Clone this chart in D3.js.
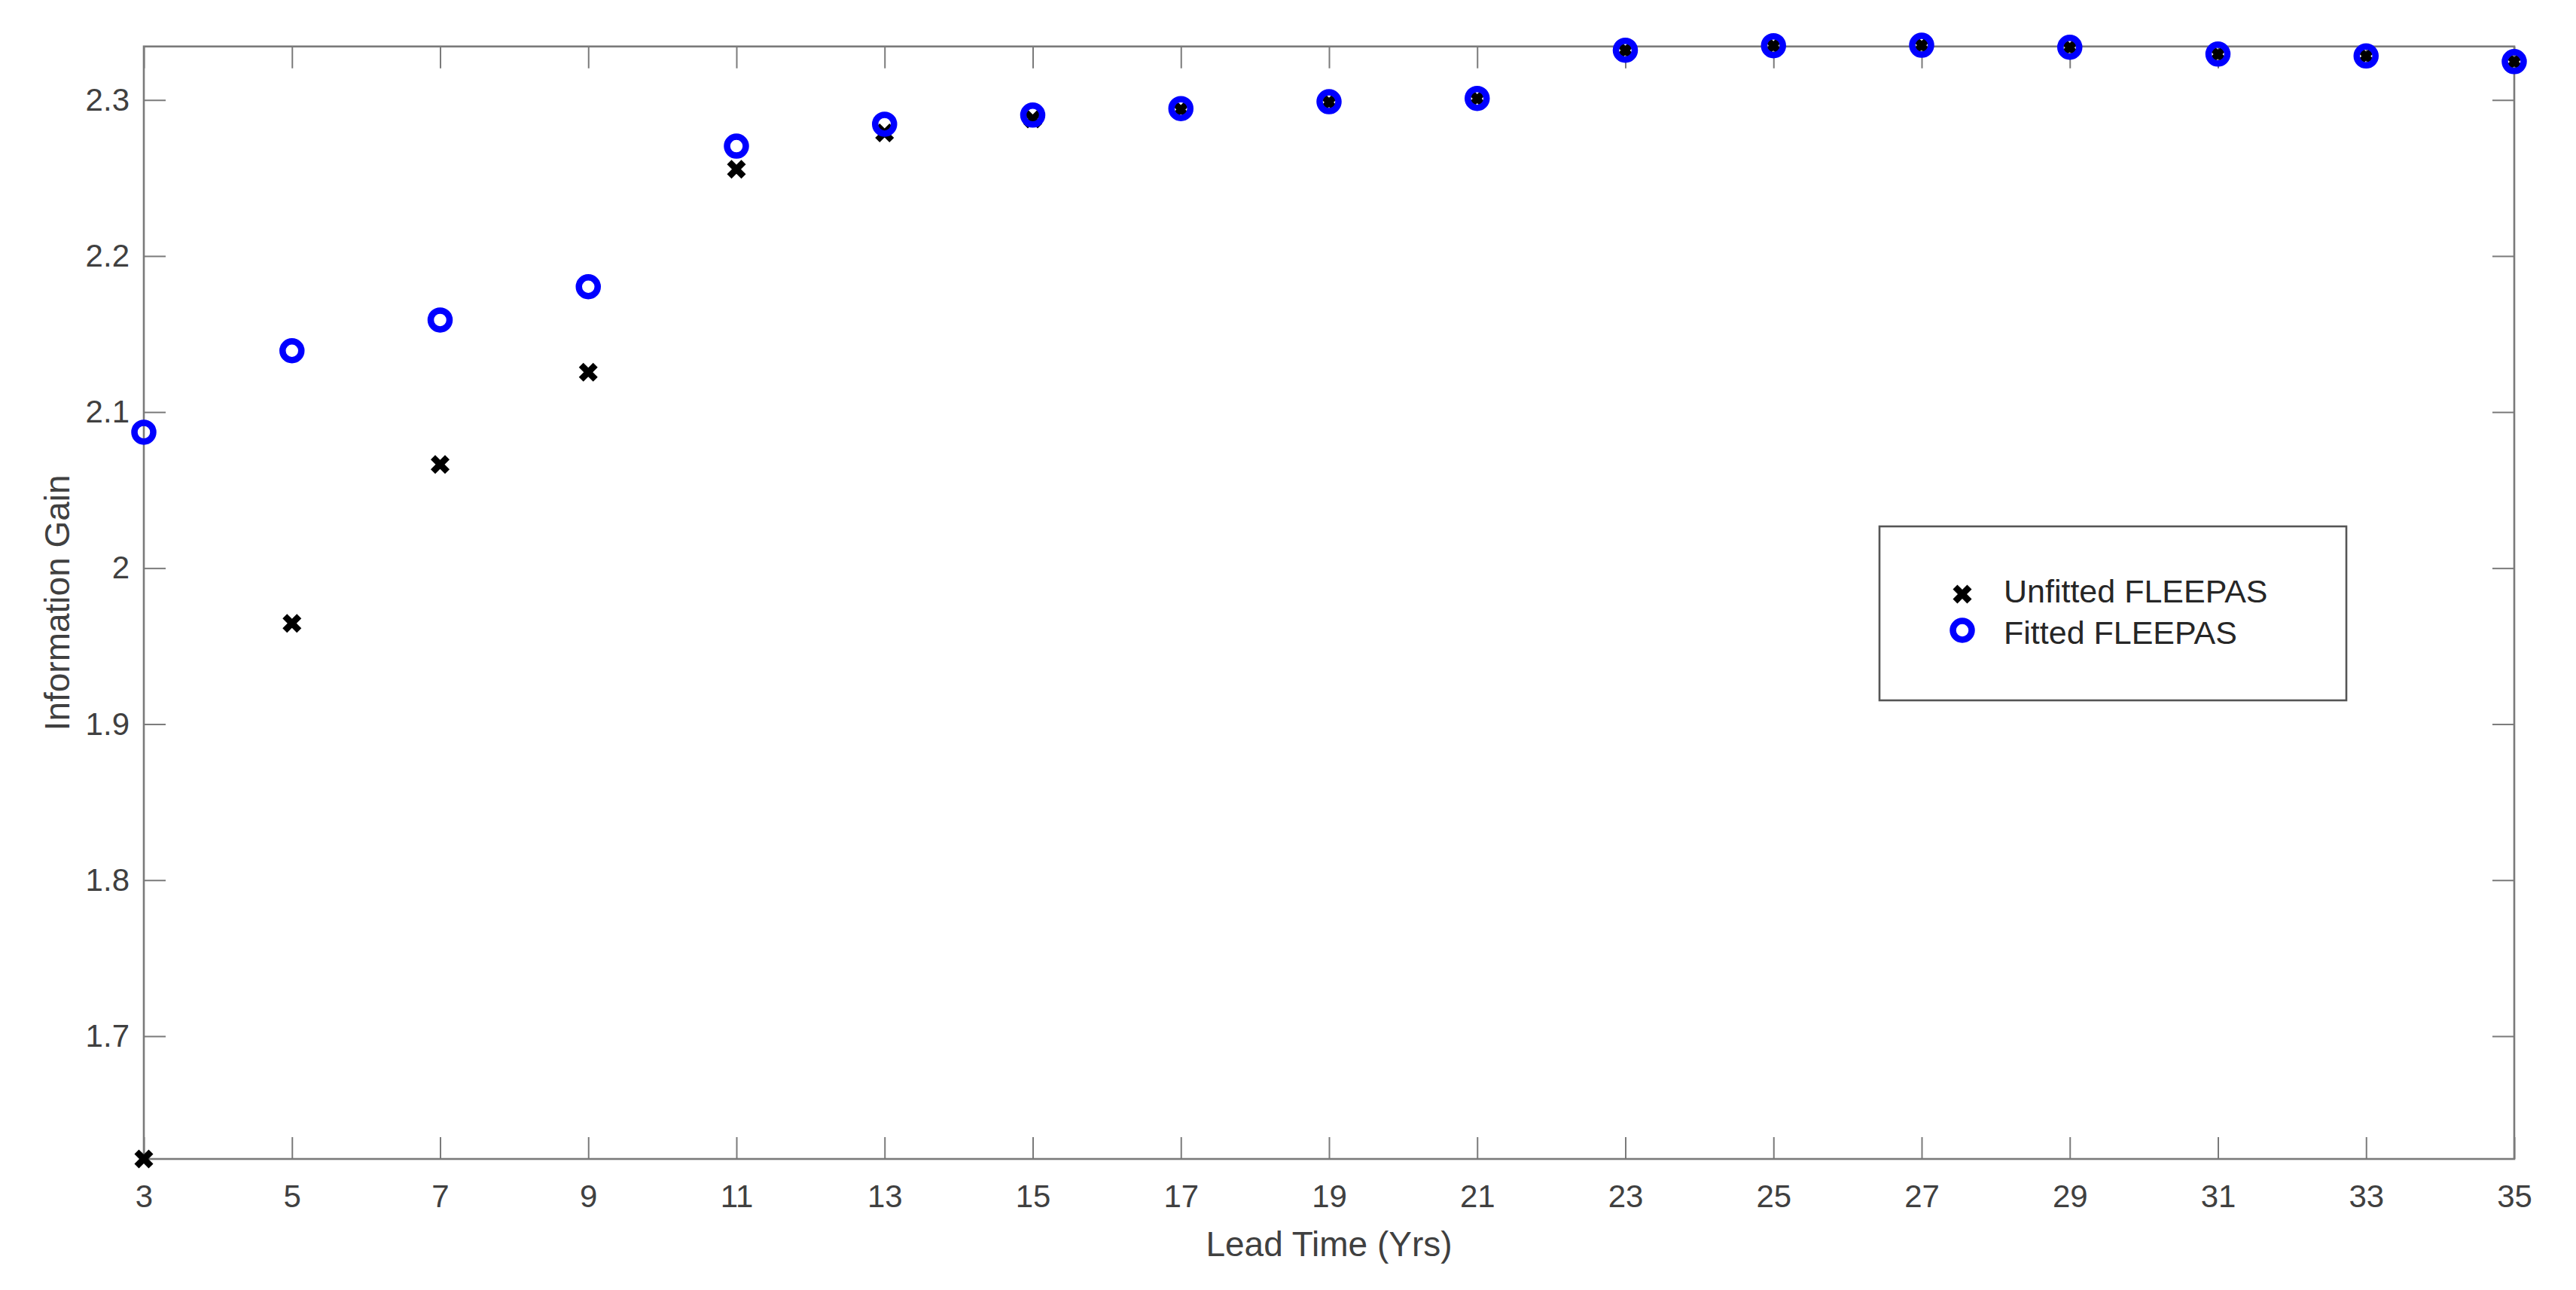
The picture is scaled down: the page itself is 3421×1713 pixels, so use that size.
<!DOCTYPE html>
<html>
<head>
<meta charset="utf-8">
<script src="https://cdn.jsdelivr.net/npm/d3@7"></script>
<style>
  html, body { margin: 0; padding: 0; background: #ffffff; }
  svg { display: block; }
  text { font-family: "Liberation Sans", Arial, Helvetica, sans-serif; }
</style>
</head>
<body>
<script>
// ---------------- data ----------------
const leadTime = [3, 5, 7, 9, 11, 13, 15, 17, 19, 21, 23, 25, 27, 29, 31, 33, 35];
const unfitted = [1.6213, 1.9646, 2.0664, 2.1255, 2.2556, 2.2789, 2.2878, 2.2938, 2.2985, 2.3008,
                  2.3318, 2.3347, 2.3350, 2.3337, 2.3293, 2.3281, 2.3245];
const fitted   = [2.0871, 2.1393, 2.1590, 2.1803, 2.2704, 2.2845, 2.2903, 2.2945, 2.2989, 2.3010,
                  2.3319, 2.3348, 2.3351, 2.3338, 2.3294, 2.3282, 2.3246];
const xLimits = [3, 35];
const yLimits = [1.6213, 2.3343];
const xTicks = [3, 5, 7, 9, 11, 13, 15, 17, 19, 21, 23, 25, 27, 29, 31, 33, 35];
const yTicks = [1.7, 1.8, 1.9, 2.0, 2.1, 2.2, 2.3];
const yTickLabels = ["1.7", "1.8", "1.9", "2", "2.1", "2.2", "2.3"];
const seriesNames = ["Unfitted FLEEPAS", "Fitted FLEEPAS"];
const xTitle = "Lead Time (Yrs)";
const yTitle = "Information Gain";

// ---------------- layout ----------------
const W = 3421, H = 1713;
const plot = { left: 191, right: 3339, top: 61.7, bottom: 1539 };
const axisColor = "#7a7a7a";
const textColor = "#404040";
const tickFont = 42, titleFont = 46, legendFont = 43;

const svg = d3.select("body").append("svg")
  .attr("width", W).attr("height", H)
  .attr("viewBox", `0 0 ${W} ${H}`);
svg.append("rect").attr("width", W).attr("height", H).attr("fill", "#fff");

const x = d3.scaleLinear().domain(xLimits).range([plot.left, plot.right]);
const y = d3.scaleLinear().domain(yLimits).range([plot.bottom, plot.top]);

const tickLen = 29;

function styleAxis(g) {
  g.select(".domain").remove();
  g.selectAll(".tick line").attr("stroke", axisColor).attr("stroke-width", 2);
  g.selectAll(".tick text")
    .attr("fill", textColor)
    .style("font-size", tickFont + "px");
}

// bottom axis
svg.append("g")
  .attr("transform", `translate(0,${plot.bottom})`)
  .call(d3.axisBottom(x).tickValues(xTicks).tickSize(-tickLen).tickSizeOuter(0).tickPadding(34)
        .tickFormat(d3.format("d")))
  .call(styleAxis);
// top axis (ticks only)
svg.append("g")
  .attr("transform", `translate(0,${plot.top})`)
  .call(d3.axisTop(x).tickValues(xTicks).tickSize(-tickLen).tickSizeOuter(0).tickFormat(""))
  .call(styleAxis);
// left axis
svg.append("g")
  .attr("transform", `translate(${plot.left},0)`)
  .call(d3.axisLeft(y).tickValues(yTicks).tickSize(-tickLen).tickSizeOuter(0).tickPadding(19)
        .tickFormat((d, i) => yTickLabels[i]))
  .call(styleAxis);
// right axis (ticks only)
svg.append("g")
  .attr("transform", `translate(${plot.right},0)`)
  .call(d3.axisRight(y).tickValues(yTicks).tickSize(-tickLen).tickSizeOuter(0).tickFormat(""))
  .call(styleAxis);

// box
svg.append("rect")
  .attr("x", plot.left).attr("y", plot.top)
  .attr("width", plot.right - plot.left).attr("height", plot.bottom - plot.top)
  .attr("fill", "none").attr("stroke", axisColor).attr("stroke-width", 2.6);

// axis titles
svg.append("text")
  .attr("x", (plot.left + plot.right) / 2).attr("y", 1668)
  .attr("text-anchor", "middle").attr("fill", textColor)
  .style("font-size", titleFont + "px")
  .text(xTitle);
svg.append("text")
  .attr("transform", `translate(92,${(plot.top + plot.bottom) / 2}) rotate(-90)`)
  .attr("text-anchor", "middle").attr("fill", textColor)
  .style("font-size", titleFont + "px")
  .text(yTitle);

// markers
const xPath = "M-6.5,-6.5L6.5,6.5M-6.5,6.5L6.5,-6.5";
function drawCross(g, cx, cy) {
  g.append("path").attr("d", xPath)
    .attr("transform", `translate(${cx},${cy})`)
    .attr("stroke", "#000").attr("stroke-width", 8.5).attr("fill", "none")
    .attr("stroke-linecap", "square");
}
function drawRing(g, cx, cy) {
  g.append("circle").attr("cx", cx).attr("cy", cy).attr("r", 12.5)
    .attr("fill", "none").attr("stroke", "#0000ff").attr("stroke-width", 8.5);
}

const gU = svg.append("g").attr("class", "unfitted");
leadTime.forEach((t, i) => drawCross(gU, x(t), y(unfitted[i])));
const gF = svg.append("g").attr("class", "fitted");
leadTime.forEach((t, i) => drawRing(gF, x(t), y(fitted[i])));

// legend
const lg = svg.append("g").attr("class", "legend");
lg.append("rect")
  .attr("x", 2496).attr("y", 699).attr("width", 620).attr("height", 231)
  .attr("fill", "#fff").attr("stroke", "#555").attr("stroke-width", 2.6);
drawCross(lg, 2606, 789);
drawRing(lg, 2606, 837);
lg.append("text").attr("x", 2661).attr("y", 800)
  .attr("fill", "#262626").style("font-size", legendFont + "px").text(seriesNames[0]);
lg.append("text").attr("x", 2661).attr("y", 855)
  .attr("fill", "#262626").style("font-size", legendFont + "px").text(seriesNames[1]);
</script>
</body>
</html>
